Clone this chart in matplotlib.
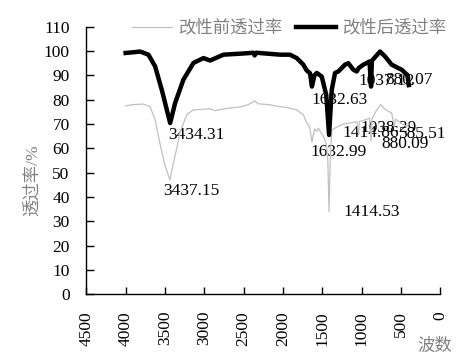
import matplotlib
matplotlib.use('Agg')
import matplotlib.pyplot as plt

plt.rcParams['font.family'] = ['Liberation Serif', 'Noto Sans CJK SC']
plt.rcParams['font.size'] = 12.5

# 改性前 (gray)
wn_before = [4000, 3900, 3780, 3690, 3625, 3560, 3500, 3437, 3400, 3350, 3307, 3222,
             3142, 3050, 2926, 2864, 2694, 2550, 2443, 2360, 2313, 2185, 2058, 1950,
             1825, 1741, 1698, 1660, 1632, 1600, 1570, 1550, 1510, 1487, 1450, 1430,
             1414, 1400, 1380, 1300, 1232, 1150, 1060, 1038, 1030, 978, 900, 880,
             870, 808, 760, 745, 700, 618, 585, 570, 554, 480, 427, 400]
t_before = [77.5, 78, 78.2, 77.2, 71.7, 61.4, 53, 47, 53, 60, 66.9, 73.8,
            75.8, 76, 76.3, 75.5, 76.5, 77, 77.9, 79.5, 78.3, 78, 77.2, 76.8,
            75.8, 73.8, 70.4, 69, 62.5, 68, 67, 68.3, 66, 65, 62, 55,
            34, 55, 67.6, 69, 70, 70.4, 71, 65.5, 71, 71.5, 72.4, 63,
            72, 75.8, 78, 77.5, 76, 74.5, 69, 72, 71.7, 70, 69, 70]

# 改性后 (black)
wn_after = [4000, 3900, 3816, 3710, 3625, 3540, 3434, 3371, 3266, 3138, 3011, 2926,
            2757, 2500, 2376, 2360, 2340, 2037, 1911, 1825, 1741, 1698, 1656, 1632,
            1600, 1570, 1507, 1450, 1414, 1380, 1338, 1296, 1211, 1169, 1105, 1062,
            1037, 978, 900, 880, 870, 766, 703, 618, 490, 420, 400]
t_after = [99.2, 99.5, 99.8, 98.5, 93.7, 84, 70.4, 78.6, 88.2, 95.1, 97.1, 96.1,
           98.5, 99, 99.3, 98.2, 99.3, 98.5, 98.5, 97.1, 94.4, 92, 90.9, 85.4,
           90, 91, 89.5, 82, 65.5, 84, 91, 91.6, 94.4, 95, 92.3, 91.6,
           93, 94.4, 95.7, 85.4, 96, 99.8, 97.8, 94.4, 92.3, 90.2, 86]

# peak labels: (text, wavenumber, value) for text anchor
labels_before = [('3437.15', 3524, 42.5), ('1632.99', 1656, 58.7), ('1414.53', 1236, 33.9),
                 ('1038.29', 1020, 68.5), ('880.09', 743, 61.8), ('585.51', 525, 66)]
labels_after = [('3434.31', 3456, 65.6), ('1632.63', 1634, 80), ('1414.86', 1250, 66.3),
                ('1037.12', 1042, 87.8), ('880.07', 703, 88.2)]

fig = plt.figure(figsize=(4.7, 3.59), dpi=100)
ax = fig.add_axes([0.1836, 0.1802, 0.7532, 0.7454])

ax.plot(wn_before, t_before, color='#c0c0c0', lw=0.9, label='改性前透过率', zorder=2)
ax.plot(wn_after, t_after, color='black', lw=3.2, label='改性后透过率', zorder=3)

# 数据标签 (画在曲线下面)
for txt, x, y in labels_before + labels_after:
    ax.text(x, y, txt, ha='left', va='center', fontsize=12.5, zorder=1)

ax.set_xlim(4500, 0)
ax.set_ylim(0, 110)
ax.set_xticks(range(0, 4501, 500))
ax.set_yticks(range(0, 111, 10))
ax.tick_params(axis='x', direction='in', length=5, width=1, pad=12, labelrotation=90)
ax.tick_params(axis='y', direction='in', length=6, width=1, pad=12)
for s in ['top', 'right']:
    ax.spines[s].set_visible(False)
for s in ['left', 'bottom']:
    ax.spines[s].set_linewidth(1)

fig.text(33 / 470, 1 - 180 / 359, '透过率/%', rotation=90, ha='center', va='center',
         color='#808080', fontsize=12.5)
fig.text(435 / 470, 1 - 347 / 359, '波数', ha='center', va='center',
         color='#808080', fontsize=12.5)

leg = ax.legend(ncol=2, loc='center left', bbox_to_anchor=(132 / 470, 1 - 28.3 / 359),
                bbox_transform=fig.transFigure, frameon=False, borderpad=0,
                borderaxespad=0, handlelength=2.3, handletextpad=0.4,
                columnspacing=0.75, fontsize=12.5)
for t in leg.get_texts():
    t.set_color('#808080')

fig.savefig('out.png', dpi=100)
